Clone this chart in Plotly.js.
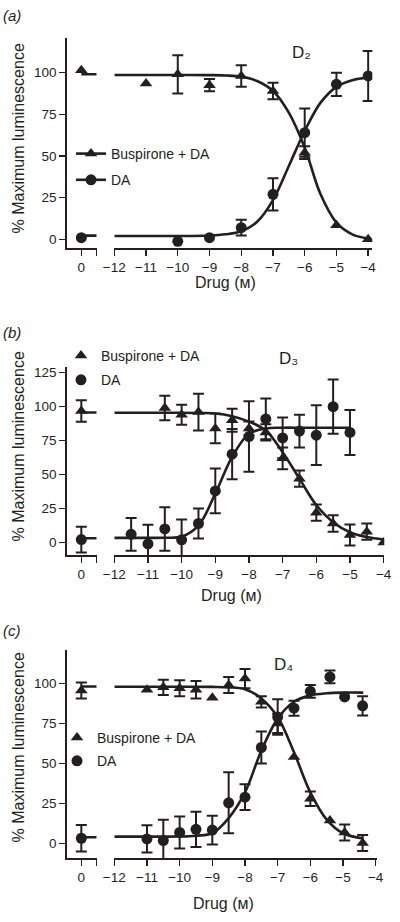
<!DOCTYPE html>
<html><head><meta charset="utf-8">
<script src="https://cdn.plot.ly/plotly-3.0.1.min.js"></script>
<style>html,body{margin:0;padding:0;background:#fff;}#chart{width:400px;height:922px;}</style>
</head><body><div id="chart"></div>
<script>
// ---------- DATA ----------
const zeroX = [0];
const zeroLineX = [0, 1];
const legendNames = ['Buspirone + DA', 'DA'];
const panelLabels = ['(a)', '(b)', '(c)'];
const receptorLabels = ['D\u2082', 'D\u2083', 'D\u2084'];
const xTitle = 'Drug (\u1D0D)';
const yTitle = '% Maximum luminescence';

// Panel a (D2)
const aTriX = [-11, -10, -9, -8, -7, -6, -5, -4];
const aTriY = [93.5, 99, 92.5, 98, 89, 52, 8.5, 0];
const aTriErr = [0, 11.5, 3.7, 6.5, 5, 3.8, 0, 0];
const aDaX = [-10, -9, -8, -7, -6, -5, -4];
const aDaY = [-1.2, 1, 7, 27, 64, 93, 98];
const aDaErr = [0, 0, 4.7, 9.7, 14.5, 7, 15];
const aZeroTriY = [101.5], aZeroTriErr = [0];
const aZeroDaY = [1], aZeroDaErr = [0];
const aZeroTriLine = [99, 99], aZeroDaLine = [2.2, 2.2];
const aTriCurveX = [-12, -11, -10, -9, -8.5, -8, -7.5, -7, -6.5, -6, -5.5, -5, -4.5, -4];
const aTriCurveY = [98.6, 98.6, 98.6, 98.5, 98.3, 97.6, 95, 89, 76, 55, 27, 10, 3, 0.5];
const aDaCurveX = [-12, -11, -10, -9, -8.5, -8, -7.5, -7, -6.5, -6, -5.5, -5, -4.5, -4];
const aDaCurveY = [2, 2, 2, 2.3, 3, 4.8, 10.5, 23.5, 44, 65, 82, 91.5, 95.5, 97];

// Panel b (D3)
const bTriX = [-10.5, -10, -9.5, -9, -8.5, -8, -7.5, -7, -6.5, -6, -5.5, -5, -4.5, -4];
const bTriY = [99, 94, 96, 84, 90, 84, 81, 62, 47, 22, 14, 5.5, 8, 0];
const bTriErr = [9, 7.4, 13.5, 11, 8.5, 5, 6, 8, 6, 6, 6, 7.7, 6, 0];
const bDaX = [-11.5, -11, -10.5, -10, -9.5, -9, -8.5, -8, -7.5, -7, -6.5, -6, -5.5, -5];
const bDaY = [6, -1, 10, 2, 14, 38, 65, 78, 91, 77, 82, 79, 100, 81];
const bDaErr = [12, 14, 16, 15, 11, 16.5, 18.5, 26, 15, 15, 12, 22, 20, 16.5];
const bZeroTriY = [96.8], bZeroTriErr = [8];
const bZeroDaY = [2.2], bZeroDaErr = [9.5];
const bZeroTriLine = [95.7, 95.7], bZeroDaLine = [3.2, 3.2];
const bTriCurveX = [-12, -11, -10, -9.5, -9, -8.5, -8, -7.5, -7, -6.5, -6, -5.5, -5, -4.5, -4];
const bTriCurveY = [95.5, 95.5, 95.5, 95.3, 95, 93, 89, 82.5, 66.5, 47, 27.5, 15, 7.6, 4, 2.2];
const bDaCurveX = [-12, -11, -10.5, -10, -9.5, -9, -8.5, -8, -7.5, -7, -6.5, -6, -5.5, -5];
const bDaCurveY = [3.4, 3.4, 3.5, 4.4, 12.5, 36, 63, 80, 84, 84.5, 84.5, 84.5, 84.5, 84.5];

// Panel c (D4)
const cTriX = [-11, -10.5, -10, -9.5, -9, -8.5, -8, -7.5, -7, -6.5, -6, -5.4, -4.95, -4.4];
const cTriY = [96, 97.5, 97, 96, 91, 99, 103, 88.5, 75, 54, 28, 14.5, 7, 0.5];
const cTriErr = [0, 4.8, 5, 5.5, 0, 5, 6, 3.5, 6, 0, 4.5, 0, 5, 5];
const cDaX = [-11, -10.5, -10, -9.5, -9, -8.5, -8, -7.5, -7, -6.5, -6, -5.4, -4.95, -4.4];
const cDaY = [3, 2, 7, 9, 8.5, 25.5, 29, 60, 79, 84.5, 95, 104, 91.5, 86];
const cDaErr = [8.5, 13, 10, 11, 9, 19, 8, 10, 11, 4.7, 4, 4, 0, 6];
const cZeroTriY = [95.5], cZeroTriErr = [5];
const cZeroDaY = [3.4], cZeroDaErr = [8.3];
const cZeroTriLine = [98, 98], cZeroDaLine = [4, 4];
const cTriCurveX = [-12, -11, -10, -9, -8.5, -8, -7.5, -7, -6.5, -6, -5.5, -5, -4.38];
const cTriCurveY = [97.9, 97.9, 97.9, 97.8, 97.5, 96.3, 90.6, 79, 57, 32, 15, 6.5, 3.3];
const cDaCurveX = [-12, -11, -10, -9.5, -9, -8.5, -8, -7.5, -7, -6.5, -6, -5.5, -5, -4.38];
const cDaCurveY = [4.4, 4.4, 4.5, 5, 6.5, 16, 32, 58, 78, 88.5, 92.5, 93.8, 94.2, 94.2];

// ---------- STYLE / LAYOUT ----------
const W = 400, H = 922;
const fx = p => p / W;
const fy = p => 1 - p / H;
const INK = '#231f20';
const FONT = 'Liberation Sans, Arial, DejaVu Sans, sans-serif';
const nanZero = arr => arr.map(v => (v === 0 ? NaN : v));

function markerTrace(x, y, err, sym, xa, ya) {
  return {
    type: 'scatter', mode: 'markers', x: x, y: y, xaxis: xa, yaxis: ya, showlegend: false,
    marker: {symbol: sym, size: 11, color: INK, line: {width: 0}},
    error_y: {type: 'data', array: nanZero(err), visible: true, color: INK, thickness: 2, width: 5.5},
    hoverinfo: 'skip'
  };
}
function lineTrace(x, y, xa, ya) {
  return {
    type: 'scatter', mode: 'lines', x: x, y: y, xaxis: xa, yaxis: ya, showlegend: false,
    line: {color: INK, width: 2.6, shape: 'spline', smoothing: 1}, hoverinfo: 'skip'
  };
}

const panels = [
  {xz: 'x', xm: 'x2', y: 'y', leg: 'legend', legMode: 'lines+markers',
   triX: aTriX, triY: aTriY, triErr: aTriErr, daX: aDaX, daY: aDaY, daErr: aDaErr,
   zTriY: aZeroTriY, zTriErr: aZeroTriErr, zDaY: aZeroDaY, zDaErr: aZeroDaErr,
   zTriLine: aZeroTriLine, zDaLine: aZeroDaLine,
   tcX: aTriCurveX, tcY: aTriCurveY, dcX: aDaCurveX, dcY: aDaCurveY},
  {xz: 'x3', xm: 'x4', y: 'y2', leg: 'legend2', legMode: 'markers',
   triX: bTriX, triY: bTriY, triErr: bTriErr, daX: bDaX, daY: bDaY, daErr: bDaErr,
   zTriY: bZeroTriY, zTriErr: bZeroTriErr, zDaY: bZeroDaY, zDaErr: bZeroDaErr,
   zTriLine: bZeroTriLine, zDaLine: bZeroDaLine,
   tcX: bTriCurveX, tcY: bTriCurveY, dcX: bDaCurveX, dcY: bDaCurveY},
  {xz: 'x5', xm: 'x6', y: 'y3', leg: 'legend3', legMode: 'markers',
   triX: cTriX, triY: cTriY, triErr: cTriErr, daX: cDaX, daY: cDaY, daErr: cDaErr,
   zTriY: cZeroTriY, zTriErr: cZeroTriErr, zDaY: cZeroDaY, zDaErr: cZeroDaErr,
   zTriLine: cZeroTriLine, zDaLine: cZeroDaLine,
   tcX: cTriCurveX, tcY: cTriCurveY, dcX: cDaCurveX, dcY: cDaCurveY}
];

const traces = [];
panels.forEach((p, pi) => {
  traces.push(lineTrace(p.tcX, p.tcY, p.xm, p.y));
  traces.push(lineTrace(p.dcX, p.dcY, p.xm, p.y));
  traces.push(lineTrace(zeroLineX, p.zTriLine, p.xz, p.y));
  traces.push(lineTrace(zeroLineX, p.zDaLine, p.xz, p.y));
  traces.push(markerTrace(p.triX, p.triY, p.triErr, 'triangle-up', p.xm, p.y));
  traces.push(markerTrace(p.daX, p.daY, p.daErr, 'circle', p.xm, p.y));
  traces.push(markerTrace(zeroX, p.zTriY, p.zTriErr, 'triangle-up', p.xz, p.y));
  traces.push(markerTrace(zeroX, p.zDaY, p.zDaErr, 'circle', p.xz, p.y));
  ['triangle-up', 'circle'].forEach((sym, i) => {
    traces.push({
      type: 'scatter', mode: p.legMode, x: [null], y: [null], xaxis: p.xm, yaxis: p.y,
      name: legendNames[i], legend: p.leg, legendgroup: 'g' + pi + '_' + i, showlegend: true,
      marker: {symbol: sym, size: 11, color: INK}, line: {color: INK, width: 2.6}
    });
  });
});

const axBase = {
  showline: true, linecolor: INK, linewidth: 1.4, ticks: 'outside', ticklen: 6,
  tickwidth: 1.4, tickcolor: INK, showgrid: false, zeroline: false, fixedrange: true,
  tickfont: {family: FONT, size: 13.5, color: INK}, automargin: false
};
const mk = (o) => Object.assign({}, axBase, o);

// pixel geometry per panel
const geo = [
  {yTop: 38.3, yBot: 248.3, yRange: [-5.4, 120.6], mainEnd: 372.3, mainRange: [-12, -3.87], yTicks: [0, 25, 50, 75, 100]},
  {yTop: 366.7, yBot: 555.3, yRange: [-9.4, 129.4], mainEnd: 384.3, mainRange: [-12, -3.98], yTicks: [0, 25, 50, 75, 100, 125]},
  {yTop: 649.5, yBot: 858.3, yRange: [-9.1, 121.1], mainEnd: 377, mainRange: [-12, -3.96], yTicks: [0, 25, 50, 75, 100]}
];
const xLeft = 66.7, zEnd = 96.7, mainStart = 114.3;

const layout = {
  width: W, height: H, margin: {l: 0, r: 0, t: 0, b: 0, pad: 0},
  paper_bgcolor: '#fff', plot_bgcolor: 'rgba(0,0,0,0)', showlegend: true,
  font: {family: FONT, color: INK}, annotations: []
};
const yNames = ['yaxis', 'yaxis2', 'yaxis3'];
const xzNames = ['xaxis', 'xaxis3', 'xaxis5'];
const xmNames = ['xaxis2', 'xaxis4', 'xaxis6'];
const xzIds = ['x', 'x3', 'x5'];
const yIds = ['y', 'y2', 'y3'];
geo.forEach((g, i) => {
  const yd = [fy(g.yBot), fy(g.yTop)];
  layout[yNames[i]] = mk({domain: yd, range: g.yRange, anchor: xzIds[i], tickvals: g.yTicks});
  layout[xzNames[i]] = mk({domain: [fx(xLeft), fx(zEnd)], range: [-0.95, 1], anchor: yIds[i],
    tickvals: [0],
    minor: {tickvals: [1], ticks: 'outside', ticklen: 6, tickwidth: 1.4, tickcolor: INK, showgrid: false}});
  layout[xmNames[i]] = mk({domain: [fx(mainStart), fx(g.mainEnd)], range: g.mainRange, anchor: yIds[i],
    tickvals: [-12, -11, -10, -9, -8, -7, -6, -5, -4]});
});

const legendGeo = [
  {x: 71, top: 138, gap: 5}, {x: 61, top: 340, gap: 3}, {x: 57, top: 722, gap: 2}
];
['legend', 'legend2', 'legend3'].forEach((k, i) => {
  layout[k] = {x: fx(legendGeo[i].x), y: fy(legendGeo[i].top), xanchor: 'left', yanchor: 'top',
    xref: 'paper', yref: 'paper', bgcolor: 'rgba(0,0,0,0)', borderwidth: 0,
    traceorder: 'grouped', tracegroupgap: legendGeo[i].gap,
    font: {family: FONT, size: 14, color: INK}, itemwidth: 30};
});

// text annotations
const titleGeo = [
  {lab: [11.5, 15], yt: [18, 138.5], xt: [225, 282], d: [301, 52]},
  {lab: [11.5, 332], yt: [18, 446.5], xt: [232, 595], d: [288, 358]},
  {lab: [11.5, 630], yt: [18, 747.5], xt: [223, 903], d: [283, 664]}
];
titleGeo.forEach((t, i) => {
  const A = layout.annotations;
  A.push({xref: 'paper', yref: 'paper', x: fx(t.lab[0]), y: fy(t.lab[1]), xanchor: 'center', yanchor: 'middle',
    showarrow: false, text: panelLabels[i], font: {family: FONT, size: 15, color: INK, style: 'italic'}});
  A.push({xref: 'paper', yref: 'paper', x: fx(t.yt[0]), y: fy(t.yt[1]), xanchor: 'center', yanchor: 'middle',
    showarrow: false, textangle: -90, text: yTitle, font: {family: FONT, size: 16, color: INK}});
  A.push({xref: 'paper', yref: 'paper', x: fx(t.xt[0]), y: fy(t.xt[1]), xanchor: 'center', yanchor: 'middle',
    showarrow: false, text: xTitle, font: {family: FONT, size: 16, color: INK}});
  A.push({xref: 'paper', yref: 'paper', x: fx(t.d[0]), y: fy(t.d[1]), xanchor: 'center', yanchor: 'middle',
    showarrow: false, text: receptorLabels[i], font: {family: FONT, size: 17, color: INK}});
});

Plotly.newPlot('chart', traces, layout, {displayModeBar: false, staticPlot: true});
</script>
</body></html>
